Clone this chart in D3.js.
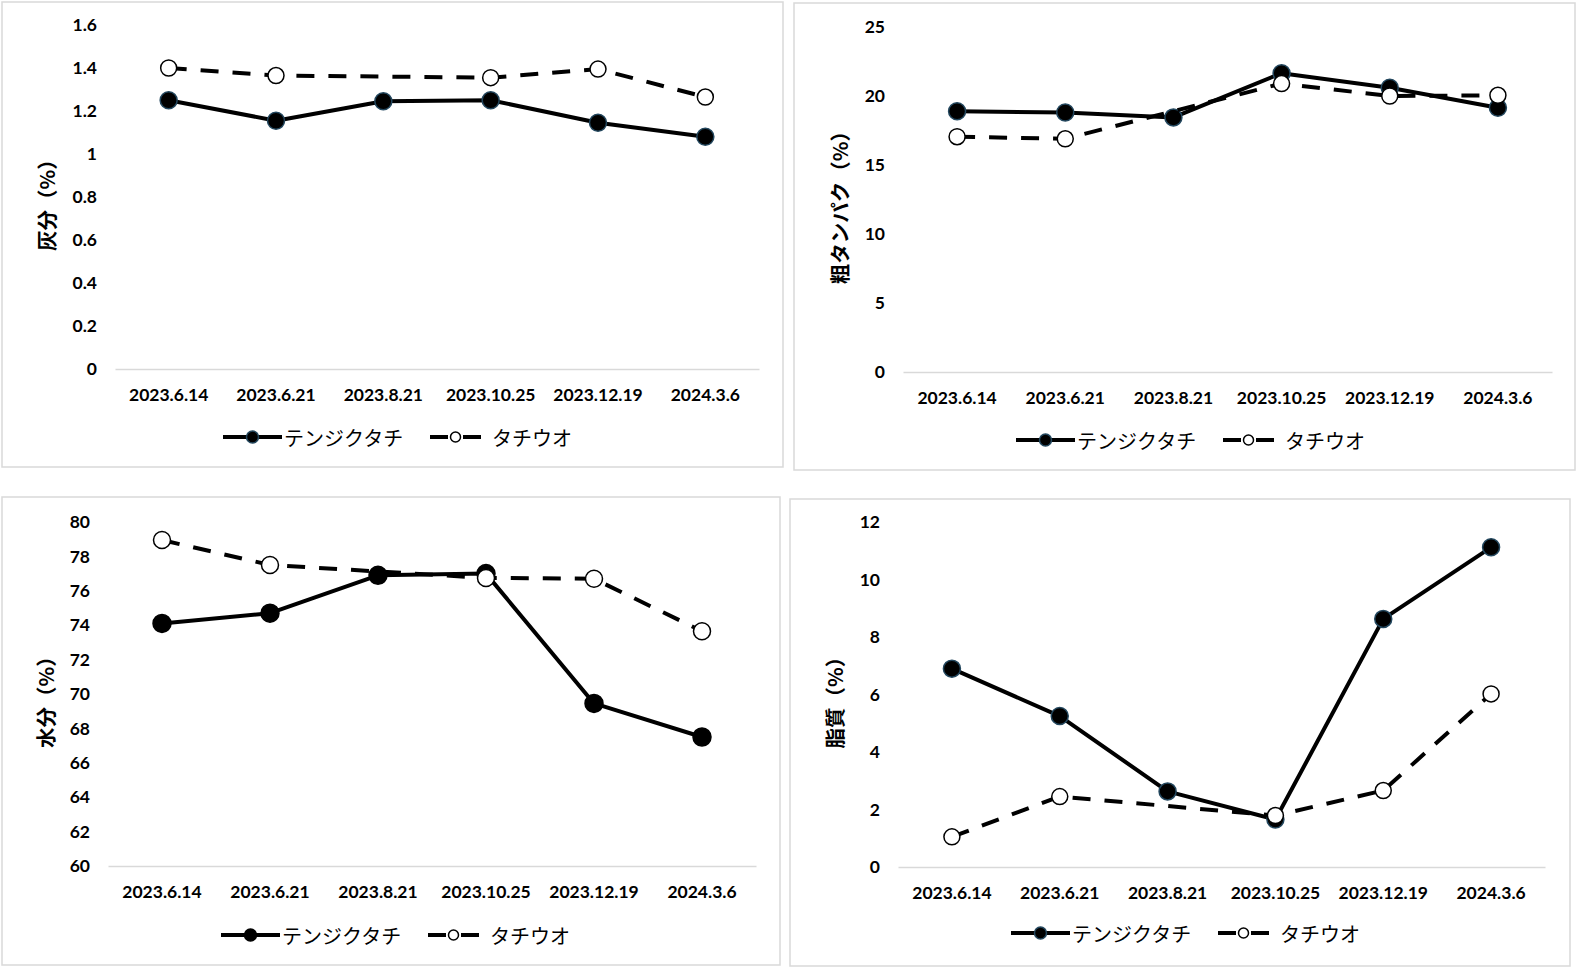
<!DOCTYPE html>
<html>
<head>
<meta charset="utf-8">
<script src="https://cdn.jsdelivr.net/npm/d3@7"></script>
<style>
  html, body { margin: 0; padding: 0; background: #fff; }
  svg { display: block; }
</style>
</head>
<body>
<script>
// ---------------- DATA ----------------
const categories = ["2023.6.14", "2023.6.21", "2023.8.21", "2023.10.25", "2023.12.19", "2024.3.6"];
const seriesNames = ["テンジクタチ", "タチウオ"];

// 灰分 (%)
const ashTenjiku  = [1.25, 1.155, 1.245, 1.25, 1.145, 1.08];
const ashTachiuo  = [1.40, 1.365, null, 1.355, 1.395, 1.265];
const ashTicks    = [0, 0.2, 0.4, 0.6, 0.8, 1, 1.2, 1.4, 1.6];

// 粗タンパク (%)
const proteinTenjiku = [18.9, 18.8, 18.45, 21.65, 20.6, 19.15];
const proteinTachiuo = [17.05, 16.9, null, 20.9, 20.0, 20.05];
const proteinTicks   = [0, 5, 10, 15, 20, 25];

// 水分 (%)
const waterTenjiku = [74.1, 74.7, 76.9, 77.0, 69.45, 67.5];
const waterTachiuo = [78.95, 77.5, null, 76.75, 76.7, 73.65];
const waterTicks   = [60, 62, 64, 66, 68, 70, 72, 74, 76, 78, 80];

// 脂質 (%)
const lipidTenjiku = [6.9, 5.25, 2.63, 1.65, 8.63, 11.12];
const lipidTachiuo = [1.05, 2.45, null, 1.79, 2.66, 6.02];
const lipidTicks   = [0, 2, 4, 6, 8, 10, 12];

// ---------------- LAYOUT ----------------
const W = 1577, H = 969;
const panels = [
  { title: "灰分（%）", s1: ashTenjiku, s2: ashTachiuo, ticks: ashTicks,
    box: [2, 2, 783, 467], plot: [115, 25, 759, 369], titleX: 46, legendX: 223, legendY: 437,
    edge: "#23475e", r: 8.5 },
  { title: "粗タンパク（%）", s1: proteinTenjiku, s2: proteinTachiuo, ticks: proteinTicks,
    box: [794, 3, 1575, 470], plot: [903, 27, 1552, 372], titleX: 839, legendX: 1016, legendY: 440,
    edge: "#23475e", r: 8.5 },
  { title: "水分（%）", s1: waterTenjiku, s2: waterTachiuo, ticks: waterTicks,
    box: [2, 497, 780, 965], plot: [108, 522, 756, 866], titleX: 45, legendX: 221, legendY: 935,
    edge: "#000", r: 9 },
  { title: "脂質（%）", s1: lipidTenjiku, s2: lipidTachiuo, ticks: lipidTicks,
    box: [790, 499, 1570, 966], plot: [898, 522, 1545, 867], titleX: 834, legendX: 1011, legendY: 933,
    edge: "#23475e", r: 8.5 }
];

const svg = d3.select("body").append("svg").attr("width", W).attr("height", H);
svg.append("rect").attr("width", W).attr("height", H).attr("fill", "#fff");

const tickFont = "Lato, 'Liberation Sans', sans-serif";
const jpFont = "'Noto Sans CJK JP', 'Noto Sans', sans-serif";
const fmt = d => String(+d.toFixed(1));

panels.forEach(p => {
  const g = svg.append("g");
  const [bx0, by0, bx1, by1] = p.box;
  g.append("rect").attr("x", bx0).attr("y", by0).attr("width", bx1 - bx0).attr("height", by1 - by0)
    .attr("fill", "#fff").attr("stroke", "#d9d9d9").attr("stroke-width", 1.5);

  const [x0, y0, x1, y1] = p.plot;
  const x = d3.scaleBand().domain(categories).range([x0, x1]);
  const y = d3.scaleLinear().domain([p.ticks[0], p.ticks[p.ticks.length - 1]]).range([y1, y0]);

  // Y axis
  const ya = g.append("g").attr("transform", `translate(${x0},0)`)
    .call(d3.axisLeft(y).tickValues(p.ticks).tickFormat(fmt).tickSize(0).tickPadding(18));
  ya.select(".domain").remove();
  ya.selectAll("text").attr("font-family", tickFont).attr("font-weight", 700)
    .attr("font-size", 17.5).attr("fill", "#000");

  // X axis
  const xa = g.append("g").attr("transform", `translate(0,${y1})`)
    .call(d3.axisBottom(x).tickSize(0).tickSizeOuter(0).tickPadding(20));
  xa.select(".domain").attr("stroke", "#d9d9d9").attr("stroke-width", 1.5);
  xa.selectAll("text").attr("font-family", tickFont).attr("font-weight", 700)
    .attr("font-size", 17.5).attr("fill", "#000");

  // Y title
  const ty = (y0 + y1) / 2 + 3;
  g.append("text").attr("transform", `translate(${p.titleX},${ty}) rotate(-90)`)
    .attr("text-anchor", "middle").attr("dominant-baseline", "central")
    .attr("font-family", jpFont).attr("font-weight", 600).attr("font-size", 20.5)
    .attr("fill", "#000").text(p.title);

  // series 1 (solid)
  const pts1 = p.s1.map((v, i) => ({ i, v })).filter(d => d.v != null);
  const line = d3.line().x(d => x(categories[d.i]) + x.bandwidth() / 2).y(d => y(d.v));
  g.append("path").attr("d", line(pts1)).attr("fill", "none").attr("stroke", "#000")
    .attr("stroke-width", 4).attr("stroke-linejoin", "round");
  g.selectAll(null).data(pts1).enter().append("circle")
    .attr("cx", d => x(categories[d.i]) + x.bandwidth() / 2).attr("cy", d => y(d.v))
    .attr("r", p.r).attr("fill", "#000").attr("stroke", p.edge).attr("stroke-width", 1.5);

  // series 2 (dashed, open)
  const pts2 = p.s2.map((v, i) => ({ i, v })).filter(d => d.v != null);
  g.append("path").attr("d", line(pts2)).attr("fill", "none").attr("stroke", "#000")
    .attr("stroke-width", 4).attr("stroke-dasharray", "18,14");
  g.selectAll(null).data(pts2).enter().append("circle")
    .attr("cx", d => x(categories[d.i]) + x.bandwidth() / 2).attr("cy", d => y(d.v))
    .attr("r", p.r - 0.5).attr("fill", "#fff").attr("stroke", "#000").attr("stroke-width", 1.5);

  // Legend
  const lx = p.legendX, ly = p.legendY;
  g.append("line").attr("x1", lx).attr("x2", lx + 59).attr("y1", ly).attr("y2", ly)
    .attr("stroke", "#000").attr("stroke-width", 4);
  g.append("circle").attr("cx", lx + 29.5).attr("cy", ly).attr("r", 6)
    .attr("fill", "#000").attr("stroke", p.edge).attr("stroke-width", 1.5);
  g.append("text").attr("x", lx + 61).attr("y", ly).attr("dominant-baseline", "central")
    .attr("font-family", jpFont).attr("font-size", 20).attr("fill", "#000").text(seriesNames[0]);

  const l2 = lx + 207;
  g.append("line").attr("x1", l2).attr("x2", l2 + 51).attr("y1", ly).attr("y2", ly)
    .attr("stroke", "#000").attr("stroke-width", 4).attr("stroke-dasharray", "18,15");
  g.append("circle").attr("cx", l2 + 25.5).attr("cy", ly).attr("r", 5)
    .attr("fill", "#fff").attr("stroke", "#000").attr("stroke-width", 1.5);
  g.append("text").attr("x", lx + 269).attr("y", ly).attr("dominant-baseline", "central")
    .attr("font-family", jpFont).attr("font-size", 20).attr("fill", "#000").text(seriesNames[1]);
});
</script>
</body>
</html>
